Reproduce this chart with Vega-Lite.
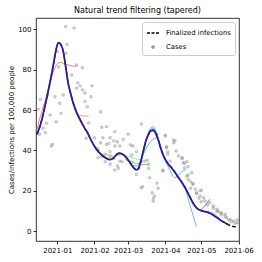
{
  "$schema": "https://vega.github.io/schema/vega-lite/v6.json",
  "autosize": {"type": "none"},
  "width": 203,
  "height": 223,
  "padding": {"left": 36, "top": 18, "right": 23, "bottom": 21},
  "title": {"text": "Natural trend filtering (tapered)", "fontSize": 8, "fontWeight": "normal", "font": "DejaVu Sans", "color": "black", "offset": 3},
  "config": {
    "font": "DejaVu Sans",
    "view": {"stroke": "black", "strokeWidth": 0.8},
    "axis": {"grid": false, "domain": false, "tickColor": "black", "tickSize": 3, "tickWidth": 0.8, "labelFontSize": 7, "labelColor": "black", "labelPadding": 2, "titleFontSize": 7, "titleFontWeight": "normal", "titleColor": "black", "labelFont": "DejaVu Sans", "titleFont": "DejaVu Sans"},
    "legend": {"orient": "top-right", "offset": 4, "padding": 4, "strokeColor": "#cccccc", "fillColor": "white", "cornerRadius": 2, "labelFontSize": 6.8, "labelFont": "DejaVu Sans", "labelColor": "black", "rowPadding": 3, "symbolSize": 144, "labelOffset": 6, "symbolStrokeWidth": 1.3, "symbolOpacity": 1}
  },
  "datasets": {
    "cases": [
      {"date": "2020-12-16", "value": 60.5}, {"date": "2020-12-17", "value": 48}, {"date": "2020-12-18", "value": 65.3},
      {"date": "2020-12-20", "value": 51}, {"date": "2020-12-22", "value": 48.8}, {"date": "2020-12-23", "value": 53.4},
      {"date": "2020-12-24", "value": 67.5}, {"date": "2020-12-26", "value": 57.6}, {"date": "2020-12-27", "value": 42.2},
      {"date": "2020-12-28", "value": 43}, {"date": "2020-12-30", "value": 66.6}, {"date": "2020-12-31", "value": 54.2},
      {"date": "2021-01-01", "value": 89}, {"date": "2021-01-02", "value": 81.5}, {"date": "2021-01-03", "value": 63.4},
      {"date": "2021-01-04", "value": 58.4}, {"date": "2021-01-06", "value": 67.5}, {"date": "2021-01-08", "value": 101.4},
      {"date": "2021-01-08", "value": 88.2}, {"date": "2021-01-09", "value": 92.6}, {"date": "2021-01-13", "value": 77.4},
      {"date": "2021-01-15", "value": 100.7}, {"date": "2021-01-17", "value": 82.4}, {"date": "2021-01-17", "value": 70.9},
      {"date": "2021-01-18", "value": 73.6}, {"date": "2021-01-20", "value": 72}, {"date": "2021-01-22", "value": 81},
      {"date": "2021-01-22", "value": 70}, {"date": "2021-01-24", "value": 68.5}, {"date": "2021-01-24", "value": 64.3},
      {"date": "2021-01-25", "value": 46}, {"date": "2021-01-26", "value": 61.7}, {"date": "2021-01-27", "value": 53.6},
      {"date": "2021-01-29", "value": 66.6}, {"date": "2021-01-30", "value": 72}, {"date": "2021-02-01", "value": 46.3},
      {"date": "2021-02-03", "value": 40.5}, {"date": "2021-02-04", "value": 36.4}, {"date": "2021-02-04", "value": 40.2},
      {"date": "2021-02-06", "value": 59.2}, {"date": "2021-02-06", "value": 43.8}, {"date": "2021-02-07", "value": 51.5},
      {"date": "2021-02-07", "value": 36.9}, {"date": "2021-02-08", "value": 46.3}, {"date": "2021-02-10", "value": 38.1},
      {"date": "2021-02-10", "value": 34.4}, {"date": "2021-02-11", "value": 51.8}, {"date": "2021-02-11", "value": 43},
      {"date": "2021-02-13", "value": 43.5}, {"date": "2021-02-14", "value": 46.3}, {"date": "2021-02-14", "value": 37.2},
      {"date": "2021-02-14", "value": 33.1}, {"date": "2021-02-14", "value": 39.4}, {"date": "2021-02-17", "value": 44.7},
      {"date": "2021-02-17", "value": 36}, {"date": "2021-02-18", "value": 42.2}, {"date": "2021-02-18", "value": 49.3},
      {"date": "2021-02-18", "value": 30.3}, {"date": "2021-02-20", "value": 32.3}, {"date": "2021-02-20", "value": 44.3},
      {"date": "2021-02-21", "value": 38.1}, {"date": "2021-02-21", "value": 31.1}, {"date": "2021-02-22", "value": 42.2},
      {"date": "2021-02-22", "value": 34.7}, {"date": "2021-02-24", "value": 34.4}, {"date": "2021-02-25", "value": 45.5},
      {"date": "2021-02-28", "value": 35.6}, {"date": "2021-03-01", "value": 48}, {"date": "2021-03-03", "value": 42.7},
      {"date": "2021-03-04", "value": 33.9}, {"date": "2021-03-04", "value": 37.7}, {"date": "2021-03-05", "value": 42.2},
      {"date": "2021-03-08", "value": 28.1}, {"date": "2021-03-08", "value": 39.4}, {"date": "2021-03-10", "value": 31.1},
      {"date": "2021-03-12", "value": 21.5}, {"date": "2021-03-12", "value": 53.1}, {"date": "2021-03-12", "value": 34.4},
      {"date": "2021-03-13", "value": 22}, {"date": "2021-03-15", "value": 34.7}, {"date": "2021-03-17", "value": 35.2},
      {"date": "2021-03-18", "value": 33.1}, {"date": "2021-03-18", "value": 31.1}, {"date": "2021-03-19", "value": 26.5},
      {"date": "2021-03-21", "value": 19}, {"date": "2021-03-22", "value": 14.9}, {"date": "2021-03-22", "value": 16.2},
      {"date": "2021-03-23", "value": 17.4}, {"date": "2021-03-25", "value": 48}, {"date": "2021-03-25", "value": 23.7},
      {"date": "2021-03-26", "value": 21.2}, {"date": "2021-03-30", "value": 29.8}, {"date": "2021-03-30", "value": 30.3},
      {"date": "2021-04-01", "value": 47.1}, {"date": "2021-04-01", "value": 47.6}, {"date": "2021-04-02", "value": 41.3},
      {"date": "2021-04-02", "value": 41.8}, {"date": "2021-04-03", "value": 38.1}, {"date": "2021-04-03", "value": 39.4},
      {"date": "2021-04-05", "value": 34.7}, {"date": "2021-04-08", "value": 43.8}, {"date": "2021-04-08", "value": 45.2},
      {"date": "2021-04-09", "value": 44.7}, {"date": "2021-04-10", "value": 39.7}, {"date": "2021-04-12", "value": 37.2},
      {"date": "2021-04-15", "value": 36.4}, {"date": "2021-04-15", "value": 36}, {"date": "2021-04-16", "value": 33.9},
      {"date": "2021-04-17", "value": 31.4}, {"date": "2021-04-17", "value": 33.6}, {"date": "2021-04-19", "value": 27.3},
      {"date": "2021-04-19", "value": 34.4}, {"date": "2021-04-20", "value": 25.7}, {"date": "2021-04-20", "value": 27.8},
      {"date": "2021-04-20", "value": 32}, {"date": "2021-04-22", "value": 24.5}, {"date": "2021-04-22", "value": 21.2},
      {"date": "2021-04-23", "value": 28.9}, {"date": "2021-04-24", "value": 23.2}, {"date": "2021-04-24", "value": 23.6},
      {"date": "2021-04-26", "value": 20.7}, {"date": "2021-04-27", "value": 19}, {"date": "2021-04-27", "value": 18.7},
      {"date": "2021-04-29", "value": 16.2}, {"date": "2021-04-30", "value": 19.9}, {"date": "2021-04-30", "value": 17.4},
      {"date": "2021-05-01", "value": 20.3}, {"date": "2021-05-01", "value": 14.5}, {"date": "2021-05-03", "value": 16.5},
      {"date": "2021-05-04", "value": 14.9}, {"date": "2021-05-06", "value": 12.9}, {"date": "2021-05-08", "value": 14},
      {"date": "2021-05-11", "value": 12.4}, {"date": "2021-05-11", "value": 11.3}, {"date": "2021-05-14", "value": 10.8},
      {"date": "2021-05-14", "value": 9.6}, {"date": "2021-05-15", "value": 9.9}, {"date": "2021-05-17", "value": 8.8},
      {"date": "2021-05-18", "value": 9.1}, {"date": "2021-05-18", "value": 7.9}, {"date": "2021-05-21", "value": 8.3},
      {"date": "2021-05-21", "value": 7.1}, {"date": "2021-05-22", "value": 6.6}, {"date": "2021-05-24", "value": 5.5},
      {"date": "2021-05-25", "value": 5.8}, {"date": "2021-05-26", "value": 4.6}, {"date": "2021-05-28", "value": 5},
      {"date": "2021-05-29", "value": 3.8}, {"date": "2021-05-31", "value": 4.1}, {"date": "2021-05-31", "value": 5.5}
    ],
    "final": [
      {"date": "2020-12-15", "value": 48}, {"date": "2020-12-17", "value": 51}, {"date": "2020-12-19", "value": 55},
      {"date": "2020-12-21", "value": 60}, {"date": "2020-12-23", "value": 65.5}, {"date": "2020-12-25", "value": 71},
      {"date": "2020-12-27", "value": 77}, {"date": "2020-12-29", "value": 83.5}, {"date": "2020-12-31", "value": 90},
      {"date": "2021-01-02", "value": 93.5}, {"date": "2021-01-04", "value": 92.5}, {"date": "2021-01-06", "value": 89},
      {"date": "2021-01-08", "value": 81.5}, {"date": "2021-01-10", "value": 73.5}, {"date": "2021-01-12", "value": 68.5},
      {"date": "2021-01-14", "value": 64}, {"date": "2021-01-16", "value": 60.5}, {"date": "2021-01-18", "value": 57.6},
      {"date": "2021-01-20", "value": 55.2}, {"date": "2021-01-22", "value": 53}, {"date": "2021-01-24", "value": 50.8},
      {"date": "2021-01-26", "value": 49}, {"date": "2021-01-28", "value": 46.5}, {"date": "2021-01-31", "value": 43},
      {"date": "2021-02-04", "value": 39.5}, {"date": "2021-02-08", "value": 37.2}, {"date": "2021-02-11", "value": 36},
      {"date": "2021-02-14", "value": 35.4}, {"date": "2021-02-17", "value": 36.3}, {"date": "2021-02-20", "value": 38.2},
      {"date": "2021-02-22", "value": 38.6}, {"date": "2021-02-24", "value": 38.2}, {"date": "2021-02-27", "value": 36.8},
      {"date": "2021-03-02", "value": 34.4}, {"date": "2021-03-05", "value": 31.8}, {"date": "2021-03-08", "value": 30.3},
      {"date": "2021-03-10", "value": 31.5}, {"date": "2021-03-12", "value": 35.5}, {"date": "2021-03-14", "value": 40.5},
      {"date": "2021-03-16", "value": 45}, {"date": "2021-03-18", "value": 48}, {"date": "2021-03-20", "value": 49.8},
      {"date": "2021-03-22", "value": 50}, {"date": "2021-03-24", "value": 48.5}, {"date": "2021-03-26", "value": 45.5},
      {"date": "2021-03-28", "value": 41.5}, {"date": "2021-03-30", "value": 38}, {"date": "2021-04-01", "value": 35.5},
      {"date": "2021-04-03", "value": 33.6}, {"date": "2021-04-06", "value": 31.5}, {"date": "2021-04-09", "value": 29.2},
      {"date": "2021-04-12", "value": 26.5}, {"date": "2021-04-15", "value": 24}, {"date": "2021-04-18", "value": 21},
      {"date": "2021-04-21", "value": 17.5}, {"date": "2021-04-24", "value": 14}, {"date": "2021-04-27", "value": 11.5},
      {"date": "2021-04-30", "value": 10.3}, {"date": "2021-05-03", "value": 9.8}, {"date": "2021-05-06", "value": 9.4},
      {"date": "2021-05-09", "value": 8.6}, {"date": "2021-05-12", "value": 7.5}, {"date": "2021-05-15", "value": 6.3},
      {"date": "2021-05-18", "value": 5}, {"date": "2021-05-21", "value": 4}, {"date": "2021-05-24", "value": 3},
      {"date": "2021-05-27", "value": 2.3}, {"date": "2021-05-31", "value": 2}
    ],
    "vint": [
      {"v": "v01", "date": "2020-12-15", "value": 50}, {"v": "v01", "date": "2020-12-17", "value": 55}, {"v": "v01", "date": "2020-12-20", "value": 61},
      {"v": "v01", "date": "2020-12-23", "value": 67}, {"v": "v01", "date": "2020-12-26", "value": 74}, {"v": "v01", "date": "2020-12-29", "value": 79.5},
      {"v": "v01", "date": "2021-01-01", "value": 83}, {"v": "v01", "date": "2021-01-04", "value": 83.7}, {"v": "v01", "date": "2021-01-07", "value": 83},
      {"v": "v01", "date": "2021-01-11", "value": 82.2}, {"v": "v01", "date": "2021-01-14", "value": 81.8}, {"v": "v01", "date": "2021-01-17", "value": 81.8},
      {"v": "v02", "date": "2021-01-06", "value": 89}, {"v": "v02", "date": "2021-01-08", "value": 81.5}, {"v": "v02", "date": "2021-01-10", "value": 73.5},
      {"v": "v02", "date": "2021-01-12", "value": 68.5}, {"v": "v02", "date": "2021-01-14", "value": 64}, {"v": "v02", "date": "2021-01-16", "value": 60.5},
      {"v": "v02", "date": "2021-01-18", "value": 58}, {"v": "v02", "date": "2021-01-20", "value": 57.4}, {"v": "v02", "date": "2021-01-23", "value": 57.1},
      {"v": "v02", "date": "2021-01-27", "value": 57},
      {"v": "v03", "date": "2021-01-20", "value": 55.2}, {"v": "v03", "date": "2021-01-22", "value": 53}, {"v": "v03", "date": "2021-01-24", "value": 50.8},
      {"v": "v03", "date": "2021-01-26", "value": 49}, {"v": "v03", "date": "2021-01-28", "value": 46.5}, {"v": "v03", "date": "2021-01-30", "value": 43.8},
      {"v": "v03", "date": "2021-02-01", "value": 42}, {"v": "v03", "date": "2021-02-03", "value": 41.4}, {"v": "v03", "date": "2021-02-05", "value": 41.2},
      {"v": "v04", "date": "2021-01-28", "value": 46.5}, {"v": "v04", "date": "2021-01-31", "value": 43}, {"v": "v04", "date": "2021-02-04", "value": 39.5},
      {"v": "v04", "date": "2021-02-07", "value": 38.3}, {"v": "v04", "date": "2021-02-10", "value": 37.9}, {"v": "v04", "date": "2021-02-13", "value": 37.8},
      {"v": "v04", "date": "2021-02-16", "value": 37.8},
      {"v": "v05", "date": "2021-02-04", "value": 39.5}, {"v": "v05", "date": "2021-02-08", "value": 37.2}, {"v": "v05", "date": "2021-02-11", "value": 36},
      {"v": "v05", "date": "2021-02-14", "value": 36.4}, {"v": "v05", "date": "2021-02-18", "value": 37.5}, {"v": "v05", "date": "2021-02-22", "value": 37.8},
      {"v": "v05", "date": "2021-02-26", "value": 37.5}, {"v": "v05", "date": "2021-03-02", "value": 36.8}, {"v": "v05", "date": "2021-03-06", "value": 36},
      {"v": "v05", "date": "2021-03-10", "value": 35.5}, {"v": "v05", "date": "2021-03-14", "value": 35}, {"v": "v05", "date": "2021-03-18", "value": 35},
      {"v": "v06", "date": "2021-02-14", "value": 35.4}, {"v": "v06", "date": "2021-02-17", "value": 36.3}, {"v": "v06", "date": "2021-02-20", "value": 38.2},
      {"v": "v06", "date": "2021-02-22", "value": 38.6}, {"v": "v06", "date": "2021-02-25", "value": 37.4}, {"v": "v06", "date": "2021-02-28", "value": 36},
      {"v": "v06", "date": "2021-03-04", "value": 34.5}, {"v": "v06", "date": "2021-03-08", "value": 33.5}, {"v": "v06", "date": "2021-03-12", "value": 33},
      {"v": "v06", "date": "2021-03-18", "value": 33},
      {"v": "v07", "date": "2021-02-22", "value": 38.6}, {"v": "v07", "date": "2021-02-24", "value": 38.2}, {"v": "v07", "date": "2021-02-27", "value": 36.8},
      {"v": "v07", "date": "2021-03-02", "value": 34.4}, {"v": "v07", "date": "2021-03-05", "value": 32.5}, {"v": "v07", "date": "2021-03-08", "value": 32.3},
      {"v": "v07", "date": "2021-03-11", "value": 34.5}, {"v": "v07", "date": "2021-03-14", "value": 38.5}, {"v": "v07", "date": "2021-03-17", "value": 42},
      {"v": "v07", "date": "2021-03-20", "value": 44.5}, {"v": "v07", "date": "2021-03-23", "value": 46}, {"v": "v07", "date": "2021-03-26", "value": 46.3},
      {"v": "v08", "date": "2021-03-05", "value": 31.8}, {"v": "v08", "date": "2021-03-08", "value": 30.3}, {"v": "v08", "date": "2021-03-10", "value": 31.5},
      {"v": "v08", "date": "2021-03-12", "value": 35.5}, {"v": "v08", "date": "2021-03-14", "value": 40.5}, {"v": "v08", "date": "2021-03-16", "value": 45},
      {"v": "v08", "date": "2021-03-18", "value": 48.3}, {"v": "v08", "date": "2021-03-20", "value": 50.5}, {"v": "v08", "date": "2021-03-22", "value": 51},
      {"v": "v08", "date": "2021-03-24", "value": 49.5}, {"v": "v08", "date": "2021-03-26", "value": 46}, {"v": "v08", "date": "2021-03-28", "value": 41.5},
      {"v": "v08", "date": "2021-03-30", "value": 38}, {"v": "v08", "date": "2021-04-01", "value": 35}, {"v": "v08", "date": "2021-04-03", "value": 32.5},
      {"v": "v08", "date": "2021-04-05", "value": 30}, {"v": "v08", "date": "2021-04-07", "value": 27.5}, {"v": "v08", "date": "2021-04-09", "value": 26.5},
      {"v": "v08", "date": "2021-04-12", "value": 27.8}, {"v": "v08", "date": "2021-04-15", "value": 29.5}, {"v": "v08", "date": "2021-04-18", "value": 30.6},
      {"v": "v09", "date": "2021-03-10", "value": 31.5}, {"v": "v09", "date": "2021-03-12", "value": 35.5}, {"v": "v09", "date": "2021-03-14", "value": 40.8},
      {"v": "v09", "date": "2021-03-16", "value": 45.5}, {"v": "v09", "date": "2021-03-18", "value": 49}, {"v": "v09", "date": "2021-03-20", "value": 51.3},
      {"v": "v09", "date": "2021-03-22", "value": 51.8}, {"v": "v09", "date": "2021-03-24", "value": 49.8}, {"v": "v09", "date": "2021-03-26", "value": 45.8},
      {"v": "v09", "date": "2021-03-28", "value": 41.3}, {"v": "v09", "date": "2021-03-30", "value": 37.7}, {"v": "v09", "date": "2021-04-01", "value": 35.3},
      {"v": "v09", "date": "2021-04-03", "value": 33.3}, {"v": "v09", "date": "2021-04-06", "value": 31.2}, {"v": "v09", "date": "2021-04-09", "value": 28.8},
      {"v": "v09", "date": "2021-04-12", "value": 26.2}, {"v": "v09", "date": "2021-04-15", "value": 23.5}, {"v": "v09", "date": "2021-04-18", "value": 20},
      {"v": "v09", "date": "2021-04-21", "value": 14}, {"v": "v09", "date": "2021-04-24", "value": 8}, {"v": "v09", "date": "2021-04-27", "value": 2},
      {"v": "v10", "date": "2021-04-15", "value": 24}, {"v": "v10", "date": "2021-04-18", "value": 21}, {"v": "v10", "date": "2021-04-21", "value": 17.5},
      {"v": "v10", "date": "2021-04-24", "value": 14}, {"v": "v10", "date": "2021-04-27", "value": 11.5}, {"v": "v10", "date": "2021-04-30", "value": 10.3},
      {"v": "v10", "date": "2021-05-02", "value": 11.2}, {"v": "v10", "date": "2021-05-05", "value": 13.3}, {"v": "v10", "date": "2021-05-08", "value": 15.7},
      {"v": "v11", "date": "2021-04-24", "value": 14}, {"v": "v11", "date": "2021-04-27", "value": 11.5}, {"v": "v11", "date": "2021-04-30", "value": 10.3},
      {"v": "v11", "date": "2021-05-03", "value": 9.9}, {"v": "v11", "date": "2021-05-06", "value": 9.6}, {"v": "v11", "date": "2021-05-09", "value": 9.3},
      {"v": "v11", "date": "2021-05-12", "value": 8.5}, {"v": "v11", "date": "2021-05-15", "value": 6.8}, {"v": "v11", "date": "2021-05-18", "value": 5}
    ]
  },
  "encoding": {
    "x": {"field": "date", "type": "temporal",
      "scale": {"domain": [{"year": 2020, "month": 12, "date": 14, "hours": 6}, {"year": 2021, "month": 6, "date": 1, "hours": 10}], "nice": false},
      "axis": {"title": null, "format": "%Y-%m", "labelFlush": false,
        "values": [{"year": 2021, "month": 1, "date": 1}, {"year": 2021, "month": 2, "date": 1}, {"year": 2021, "month": 3, "date": 1}, {"year": 2021, "month": 4, "date": 1}, {"year": 2021, "month": 5, "date": 1}, {"year": 2021, "month": 6, "date": 1}]}},
    "y": {"field": "value", "type": "quantitative",
      "scale": {"domain": [-4.96, 105.7], "nice": false, "zero": false},
      "axis": {"title": "Cases/infections per 100,000 people", "values": [0, 20, 40, 60, 80, 100], "titlePadding": 3}}
  },
  "layer": [
    {
      "data": {"name": "cases"},
      "mark": {"type": "point", "filled": false, "size": 144, "strokeWidth": 1.2, "opacity": 0.55},
      "encoding": {
        "color": {"datum": "Cases", "type": "nominal",
          "scale": {"domain": ["Finalized infections", "Cases"], "range": ["black", "#8a8a8a"]},
          "legend": {"title": null}},
        "shape": {"datum": "Cases", "type": "nominal",
          "scale": {"domain": ["Finalized infections", "Cases"], "range": ["M-1,0H-0.5M-0.25,0H0.25M0.5,0H1", "M0.18,0A0.18,0.18 0 1,1 -0.18,0A0.18,0.18 0 1,1 0.18,0Z"]},
          "legend": {"title": null}}
      }
    },
    {
      "data": {"name": "final"},
      "mark": {"type": "line", "color": "black", "strokeWidth": 1.3, "strokeDash": [4, 2], "interpolate": "monotone"},
      "encoding": {}
    },
    {
      "data": {"name": "vint"},
      "mark": {"type": "line", "strokeWidth": 1, "opacity": 0.9, "interpolate": "monotone"},
      "encoding": {
        "color": {"field": "v", "type": "nominal",
          "scale": {"domain": ["v01", "v02", "v03", "v04", "v05", "v06", "v07", "v08", "v09", "v10", "v11"],
            "range": ["#f4736b", "#f2a24e", "#d8b83a", "#bcd94a", "#96e07e", "#6ccf6c", "#33c24a", "#3cc9c0", "#5cb3ef", "#4a6ee0", "#a88be3"]},
          "legend": null}
      }
    },
    {
      "data": {"name": "final"},
      "transform": [{"filter": {"field": "date", "lte": {"year": 2021, "month": 5, "date": 24}}}],
      "mark": {"type": "line", "color": "#33199a", "strokeWidth": 1.8, "interpolate": "monotone"},
      "encoding": {}
    }
  ],
  "resolve": {"scale": {"color": "independent", "shape": "independent"}, "legend": {"color": "independent", "shape": "independent"}}
}
